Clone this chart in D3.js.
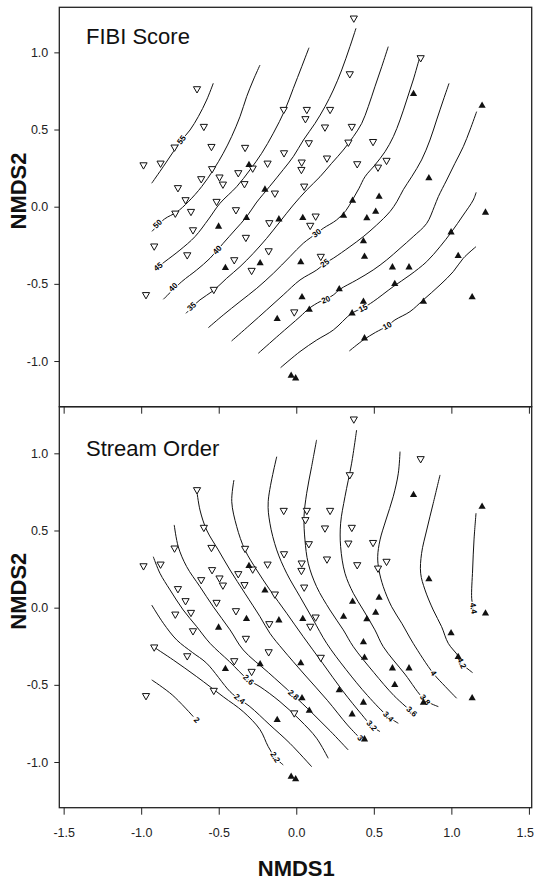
<!DOCTYPE html>
<html>
<head>
<meta charset="utf-8">
<script src="https://cdn.jsdelivr.net/npm/d3@7"></script>
<style>
  body { margin: 0; background: #fff; }
  svg { font-family: "Liberation Sans", Arial, sans-serif; }
</style>
</head>
<body>
<svg id="chart" width="535" height="883"></svg>
<script>
// site scores, NMDS1 / NMDS2 (same sites in both panels)
const openSites = [
  [0.371,1.216],[0.802,0.959],[0.345,0.855],[-0.640,0.758],[-0.081,0.624],[0.068,0.624],[0.218,0.624],
  [0.059,0.564],[-0.596,0.514],[0.185,0.510],[0.358,0.514],[-0.785,0.380],[-0.547,0.384],[-0.330,0.378],
  [0.081,0.408],[0.336,0.412],[0.495,0.416],[-0.985,0.265],[-0.875,0.276],[-0.079,0.343],[0.198,0.309],
  [-0.543,0.240],[-0.495,0.186],[-0.473,0.140],[-0.613,0.175],[-0.374,0.214],[-0.281,0.244],[-0.185,0.276],
  [0.035,0.283],[0.033,0.235],[0.393,0.272],[0.527,0.250],[0.582,0.294],[-0.763,0.117],[-0.334,0.143],
  [0.051,0.127],[-0.714,0.039],[-0.514,0.028],[-0.138,0.082],[-0.780,-0.048],[-0.679,-0.037],[-0.389,-0.026],
  [0.125,-0.067],[-0.174,-0.110],[0.090,-0.127],[-0.666,-0.156],[-0.325,-0.205],[-0.916,-0.261],[-0.178,-0.292],
  [-0.703,-0.318],[-0.400,-0.350],[0.158,-0.328],[-0.288,-0.419],[-0.532,-0.542],[-0.969,-0.576],[-0.013,-0.688]
];
const filledSites = [
  [0.756,0.736],[1.198,0.660],[-0.305,0.276],[0.855,0.190],[-0.202,0.117],[0.534,0.071],[0.363,0.045],
  [0.512,-0.026],[1.220,-0.032],[0.305,-0.052],[0.455,-0.069],[0.042,-0.067],[-0.112,-0.076],[-0.321,-0.067],
  [-0.501,-0.123],[0.998,-0.160],[0.433,-0.218],[0.440,-0.318],[1.044,-0.313],[0.029,-0.354],[-0.233,-0.360],
  [-0.457,-0.391],[0.620,-0.387],[0.727,-0.387],[0.635,-0.495],[0.277,-0.529],[1.134,-0.581],[0.037,-0.581],
  [0.433,-0.609],[0.820,-0.609],[0.084,-0.661],[-0.123,-0.721],[0.360,-0.685],[0.440,-0.847],[-0.033,-1.089],
  [-0.004,-1.106]
];

const xTicks = [-1.5, -1.0, -0.5, 0.0, 0.5, 1.0, 1.5];
const yTicks = [-1.0, -0.5, 0.0, 0.5, 1.0];

// FIBI score contours
const fibiLevels = ["55", "50", "45", "40", "35", "30", "25", "20", "15", "10"];
const fibiLines = [
  [[-0.932,0.152],[-0.858,0.259],[-0.793,0.356],[-0.739,0.432],[-0.685,0.497],[-0.632,0.583],[-0.578,0.691],[-0.535,0.800]],
  [[-0.930,-0.160],[-0.850,-0.080],[-0.771,-0.035],[-0.696,0.032],[-0.610,0.130],[-0.535,0.238],[-0.471,0.346],[-0.417,0.454],[-0.363,0.583],[-0.320,0.713],[-0.277,0.821],[-0.234,0.918]],
  [[-0.890,-0.389],[-0.847,-0.356],[-0.750,-0.281],[-0.653,-0.194],[-0.565,-0.080],[-0.492,0.022],[-0.384,0.130],[-0.299,0.238],[-0.223,0.346],[-0.148,0.476],[-0.073,0.627],[-0.019,0.767],[0.035,0.907],[0.082,1.030]],
  [[-0.857,-0.600],[-0.739,-0.486],[-0.642,-0.410],[-0.556,-0.334],[-0.471,-0.237],[-0.395,-0.151],[-0.320,-0.065],[-0.259,0.024],[-0.171,0.132],[-0.084,0.240],[-0.018,0.326],[0.046,0.432],[0.121,0.540],[0.185,0.648],[0.239,0.756],[0.293,0.886],[0.346,1.037],[0.385,1.156]],
  [[-0.711,-0.691],[-0.621,-0.604],[-0.535,-0.544],[-0.449,-0.464],[-0.363,-0.389],[-0.277,-0.302],[-0.191,-0.205],[-0.105,-0.097],[-0.019,0.011],[0.067,0.108],[0.153,0.194],[0.228,0.281],[0.303,0.367],[0.368,0.454],[0.422,0.540],[0.464,0.648],[0.507,0.777],[0.551,0.907],[0.593,1.037]],
  [[-0.567,-0.784],[-0.471,-0.702],[-0.363,-0.615],[-0.255,-0.529],[-0.148,-0.432],[-0.041,-0.324],[0.045,-0.237],[0.132,-0.172],[0.174,-0.140],[0.260,-0.086],[0.320,-0.025],[0.363,0.045],[0.405,0.120],[0.443,0.194],[0.507,0.270],[0.572,0.356],[0.626,0.454],[0.669,0.562],[0.712,0.691],[0.754,0.821],[0.793,0.957]],
  [[-0.417,-0.870],[-0.299,-0.766],[-0.191,-0.669],[-0.084,-0.572],[0.024,-0.475],[0.132,-0.410],[0.185,-0.367],[0.239,-0.334],[0.346,-0.259],[0.432,-0.194],[0.518,-0.119],[0.604,-0.032],[0.650,0.035],[0.690,0.110],[0.744,0.194],[0.808,0.303],[0.862,0.432],[0.905,0.562],[0.948,0.691],[0.985,0.799]],
  [[-0.245,-0.950],[-0.110,-0.830],[0.024,-0.713],[0.084,-0.658],[0.153,-0.615],[0.191,-0.600],[0.239,-0.572],[0.282,-0.535],[0.389,-0.475],[0.496,-0.410],[0.583,-0.345],[0.669,-0.270],[0.754,-0.194],[0.841,-0.108],[0.890,0.000],[0.916,0.065],[0.970,0.173],[1.023,0.281],[1.077,0.389],[1.120,0.497],[1.163,0.616]],
  [[-0.101,-1.043],[0.024,-0.939],[0.132,-0.864],[0.239,-0.799],[0.357,-0.691],[0.432,-0.655],[0.496,-0.615],[0.625,-0.518],[0.733,-0.443],[0.841,-0.356],[0.927,-0.259],[1.002,-0.162],[1.077,-0.054],[1.141,0.043],[1.160,0.093]],
  [[0.342,-0.935],[0.432,-0.864],[0.510,-0.815],[0.587,-0.773],[0.636,-0.734],[0.733,-0.680],[0.819,-0.604],[0.927,-0.507],[1.012,-0.421],[1.077,-0.334],[1.159,-0.259]]
];
// [line index, NMDS1, NMDS2] for every label drawn on a contour
const fibiLabels = [[0,-0.739,0.432],[1,-0.894,-0.112],[2,-0.890,-0.389],[3,-0.793,-0.522],[3,-0.509,-0.281],
  [4,-0.674,-0.648],[5,0.132,-0.172],[6,0.185,-0.367],[7,0.191,-0.604],[8,0.432,-0.658],[9,0.587,-0.773]];

// stream order contours
const orderLevels = ["2", "2.2", "2.4", "2.6", "2.8", "3", "3.2", "3.4", "3.6", "3.8", "4", "4.2", "4.4"];
const orderLines = [
  [[-0.932,-0.468],[-0.800,-0.565],[-0.664,-0.706]],
  [[-0.922,-0.253],[-0.793,-0.339],[-0.642,-0.447],[-0.471,-0.577],[-0.342,-0.674],[-0.234,-0.790],[-0.181,-0.900],[-0.137,-0.969],[-0.084,-1.019]],
  [[-0.932,0.017],[-0.857,-0.101],[-0.771,-0.209],[-0.670,-0.290],[-0.578,-0.360],[-0.427,-0.544],[-0.367,-0.593],[-0.299,-0.641],[-0.170,-0.760],[-0.041,-0.879],[0.099,-1.030]],
  [[-0.922,0.330],[-0.879,0.223],[-0.814,0.115],[-0.729,-0.015],[-0.642,-0.123],[-0.556,-0.231],[-0.430,-0.350],[-0.309,-0.468],[-0.234,-0.512],[-0.105,-0.609],[0.024,-0.728],[0.131,-0.846],[0.206,-0.976]],
  [[-0.787,0.536],[-0.761,0.395],[-0.707,0.266],[-0.621,0.136],[-0.535,0.006],[-0.427,-0.144],[-0.342,-0.274],[-0.180,-0.420],[-0.019,-0.566],[0.100,-0.680],[0.220,-0.800],[0.335,-0.922]],
  [[-0.642,0.763],[-0.621,0.633],[-0.578,0.503],[-0.503,0.374],[-0.427,0.244],[-0.331,0.093],[-0.234,-0.058],[-0.170,-0.166],[-0.084,-0.274],[0.050,-0.430],[0.200,-0.600],[0.330,-0.760],[0.411,-0.846]],
  [[-0.402,0.827],[-0.416,0.687],[-0.384,0.525],[-0.331,0.374],[-0.255,0.244],[-0.170,0.115],[-0.062,-0.036],[0.045,-0.188],[0.170,-0.360],[0.300,-0.540],[0.420,-0.690],[0.486,-0.766],[0.540,-0.803]],
  [[-0.126,0.978],[-0.181,0.687],[-0.170,0.547],[-0.126,0.374],[-0.062,0.223],[0.024,0.071],[0.110,-0.080],[0.196,-0.231],[0.320,-0.400],[0.460,-0.570],[0.593,-0.706],[0.658,-0.749]],
  [[0.131,1.087],[0.099,0.914],[0.067,0.741],[0.050,0.590],[0.056,0.439],[0.077,0.288],[0.131,0.136],[0.217,-0.015],[0.303,-0.144],[0.368,-0.253],[0.500,-0.420],[0.630,-0.570],[0.744,-0.674]],
  [[0.389,1.151],[0.357,0.936],[0.314,0.719],[0.286,0.547],[0.286,0.395],[0.314,0.223],[0.368,0.093],[0.432,-0.015],[0.507,-0.144],[0.561,-0.253],[0.700,-0.430],[0.830,-0.598],[0.916,-0.641]],
  [[0.669,1.011],[0.658,0.871],[0.625,0.719],[0.578,0.568],[0.540,0.439],[0.525,0.330],[0.533,0.244],[0.561,0.136],[0.615,0.006],[0.680,-0.101],[0.754,-0.231],[0.883,-0.425],[0.960,-0.510],[1.034,-0.587]],
  [[0.927,0.860],[0.883,0.676],[0.841,0.503],[0.808,0.352],[0.802,0.223],[0.830,0.115],[0.883,-0.015],[0.937,-0.123],[0.980,-0.231],[1.044,-0.313],[1.066,-0.360],[1.137,-0.421]],
  [[1.159,0.612],[1.146,0.439],[1.137,0.244],[1.131,0.061],[1.141,-0.004],[1.143,-0.040]]
];
const orderLabels = [[0,-0.642,-0.728],[1,-0.137,-0.969],[2,-0.367,-0.593],[3,-0.309,-0.468],[4,-0.019,-0.566],
  [5,0.411,-0.846],[6,0.486,-0.766],[7,0.593,-0.706],[8,0.744,-0.674],[9,0.830,-0.598],[10,0.883,-0.425],
  [11,1.066,-0.360],[12,1.141,-0.004]];

// layout
const left = 59.3, right = 531.7;
const svg = d3.select("#chart");
const fmt = d => d.toFixed(1);

const x = d3.scaleLinear().domain([-1.528, 1.518]).range([left, right]);
const yTop = d3.scaleLinear().domain([-1.296, 1.292]).range([406.7, 7.3]);
const yBottom = d3.scaleLinear().domain([-1.296, 1.302]).range([807.7, 406.7]);

// angle of the contour near a label, so the text follows the line
function labelAngle(line, px, py) {
  let best = Infinity, ang = 0;
  for (let i = 0; i < line.length - 1; i++) {
    const [ax, ay] = line[i], [bx, by] = line[i + 1];
    const dx = bx - ax, dy = by - ay;
    let t = ((px - ax) * dx + (py - ay) * dy) / (dx * dx + dy * dy);
    t = Math.max(0, Math.min(1, t));
    const dist = Math.hypot(ax + t * dx - px, ay + t * dy - py);
    if (dist < best) { best = dist; ang = Math.atan2(dy, dx) * 180 / Math.PI; }
  }
  if (ang > 90) ang -= 180;
  if (ang < -90) ang += 180;
  return ang;
}

function drawPanel(y, title, lines, levels, labels, showXLabels) {
  const g = svg.append("g");
  const [y0, y1] = y.range();
  const toPx = line => line.map(d => [x(d[0]), y(d[1])]);

  // contour lines
  const lineGen = d3.line().x(d => x(d[0])).y(d => y(d[1])).curve(d3.curveCatmullRom.alpha(0.5));
  g.selectAll(".contour").data(lines).enter().append("path")
    .attr("d", lineGen)
    .attr("fill", "none")
    .attr("stroke", "#111")
    .attr("stroke-width", 1);

  // contour labels, white halo cuts the line
  g.selectAll(".clab").data(labels).enter().append("text")
    .attr("transform", d => {
      const px = x(d[1]), py = y(d[2]);
      return `translate(${px},${py}) rotate(${labelAngle(toPx(lines[d[0]]), px, py)})`;
    })
    .attr("text-anchor", "middle")
    .attr("dominant-baseline", "central")
    .attr("font-size", 8)
    .attr("font-weight", "bold")
    .attr("fill", "#000")
    .attr("stroke", "#fff")
    .attr("stroke-width", 2.5)
    .attr("paint-order", "stroke")
    .text(d => levels[d[0]]);

  // sites
  g.selectAll(".open").data(openSites).enter().append("path")
    .attr("d", d => {
      const cx = x(d[0]), cy = y(d[1]);
      return `M${cx - 3.6},${cy - 3}L${cx + 3.6},${cy - 3}L${cx},${cy + 3.3}Z`;
    })
    .attr("fill", "#fff").attr("stroke", "#111").attr("stroke-width", 1);

  g.selectAll(".filled").data(filledSites).enter().append("path")
    .attr("d", d => {
      const cx = x(d[0]), cy = y(d[1]);
      return `M${cx - 3.6},${cy + 3}L${cx + 3.6},${cy + 3}L${cx},${cy - 3.3}Z`;
    })
    .attr("fill", "#111");

  // frame
  g.append("rect")
    .attr("x", left).attr("y", y1)
    .attr("width", right - left).attr("height", y0 - y1)
    .attr("fill", "none").attr("stroke", "#222").attr("stroke-width", 1.3);

  // axes
  const ya = g.append("g").attr("transform", `translate(${left},0)`)
    .call(d3.axisLeft(y).tickValues(yTicks).tickFormat(fmt).tickSize(5).tickPadding(6));
  const xa = g.append("g").attr("transform", `translate(0,${y0})`)
    .call(d3.axisBottom(x).tickValues(xTicks).tickFormat(showXLabels ? fmt : "").tickSize(7).tickPadding(13));
  [ya, xa].forEach(a => {
    a.select(".domain").remove();
    a.selectAll("line").attr("stroke", "#222");
    a.selectAll("text").attr("font-size", 12.5).attr("fill", "#222")
      .attr("font-family", "'Liberation Sans', Arial, sans-serif");
  });
  // last label sits on the page edge, keep it inside
  xa.selectAll(".tick:last-of-type text").attr("text-anchor", "end").attr("dx", 4.5);

  // panel title
  g.append("text")
    .attr("x", 86).attr("y", y1 + (showXLabels ? 49.3 : 36.3))
    .attr("font-size", 22).attr("fill", "#111")
    .text(title);

  // y axis title
  g.append("text")
    .attr("transform", `translate(18,${(y0 + y1) / 2 - 16}) rotate(-90)`)
    .attr("text-anchor", "middle")
    .attr("dominant-baseline", "central")
    .attr("font-size", 22).attr("font-weight", "bold").attr("fill", "#111")
    .text("NMDS2");
}

drawPanel(yTop, "FIBI Score", fibiLines, fibiLevels, fibiLabels, false);
drawPanel(yBottom, "Stream Order", orderLines, orderLevels, orderLabels, true);

svg.append("text")
  .attr("x", x(0)).attr("y", 876)
  .attr("text-anchor", "middle")
  .attr("font-size", 22).attr("font-weight", "bold").attr("fill", "#111")
  .text("NMDS1");
</script>
</body>
</html>
